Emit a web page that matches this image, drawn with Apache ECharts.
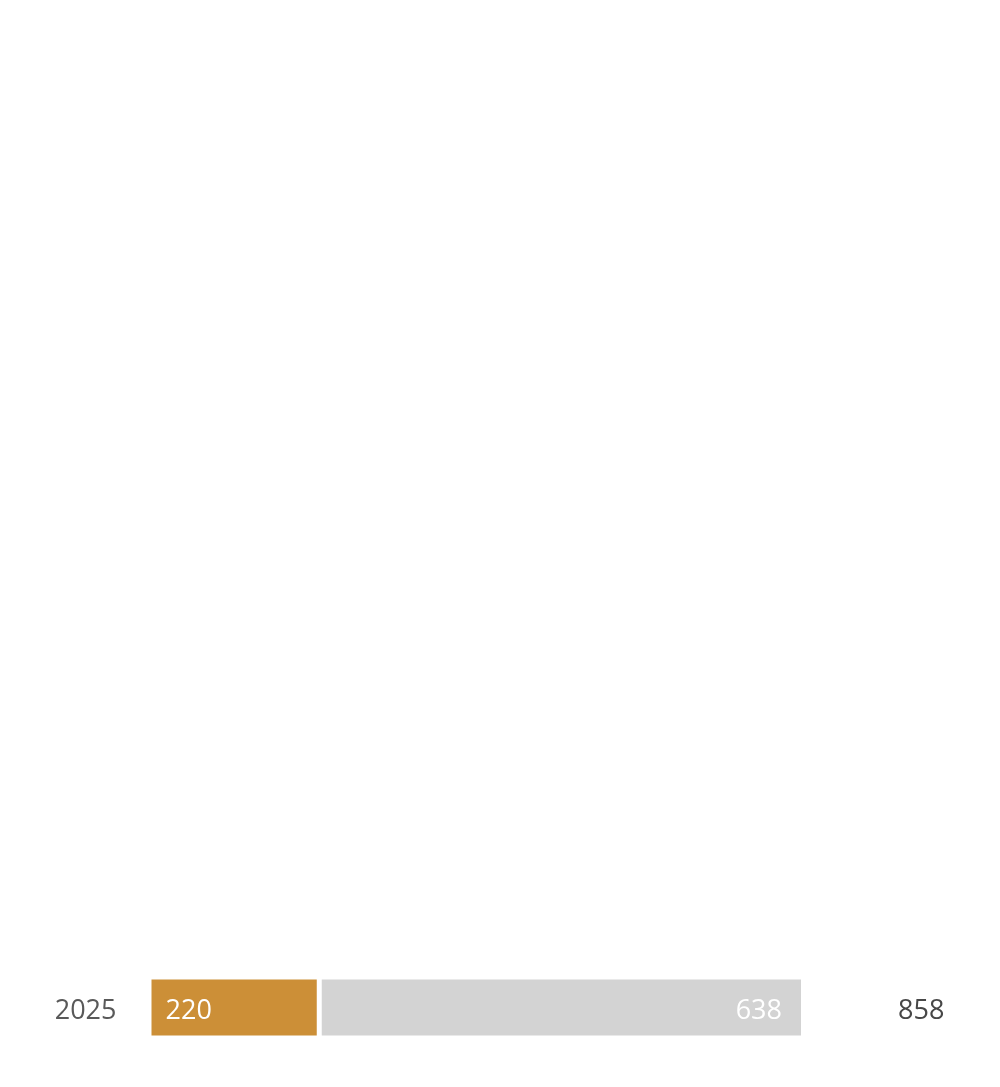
<!DOCTYPE html>
<html>
<head>
<meta charset="utf-8">
<style>
  html, body { margin: 0; padding: 0; background: #fff; }
  #chart { width: 1000px; height: 1087px; }
</style>
<script src="https://cdn.jsdelivr.net/npm/echarts@6/dist/echarts.min.js"></script>
</head>
<body>
<div id="chart"></div>
<script>
// Data
const categories = ['2025'];
const firstValues = [220];
const secondValues = [638];
const totalValues = [858];

const FONT = '27px "Open Sans", sans-serif';
const GAP = 5; // white gap between the two segments

function segmentRenderer(color, offset, labelPos, labelDist) {
    return function (params, api) {
        const y = api.value(2);
        const p0 = api.coord([api.value(0), y]);
        const p1 = api.coord([api.value(1), y]);
        const h = api.size([0, 1])[1];
        return {
            type: 'rect',
            shape: { x: p0[0] + offset, y: p0[1] - h / 2, width: p1[0] - p0[0], height: h },
            style: { fill: color },
            textContent: {
                style: { text: String(api.value(3)), fill: '#fff', font: FONT }
            },
            textConfig: { position: labelPos, distance: labelDist, offset: [0, 4] }
        };
    };
}

function sideLabel(color, margin) {
    return {
        margin: margin,
        formatter: '{t|{value}}',
        rich: {
            t: { color: color, fontSize: 27, fontFamily: 'Open Sans', padding: [8, 0, 0, 0] }
        }
    };
}

const chart = echarts.init(document.getElementById('chart'));
chart.setOption({
    backgroundColor: '#fff',
    animation: false,
    grid: { left: 151.5, width: 644.5, top: 979.5, height: 56 },
    xAxis: { type: 'value', min: 0, max: 858, show: false },
    yAxis: [
        {
            type: 'category',
            data: categories,
            axisLine: { show: false },
            axisTick: { show: false },
            axisLabel: sideLabel('#595959', 35)
        },
        {
            type: 'category',
            position: 'right',
            data: totalValues.map(String),
            axisLine: { show: false },
            axisTick: { show: false },
            axisLabel: sideLabel('#474747', 102)
        }
    ],
    series: [
        {
            type: 'custom',
            renderItem: segmentRenderer('#CC8F37', 0, 'insideLeft', 14),
            encode: { x: [0, 1], y: 2 },
            data: categories.map(function (c, i) { return [0, firstValues[i], i, firstValues[i]]; })
        },
        {
            type: 'custom',
            renderItem: segmentRenderer('#D3D3D3', GAP, 'insideRight', 19),
            encode: { x: [0, 1], y: 2 },
            data: categories.map(function (c, i) {
                return [firstValues[i], firstValues[i] + secondValues[i], i, secondValues[i]];
            })
        }
    ]
});
</script>
</body>
</html>
